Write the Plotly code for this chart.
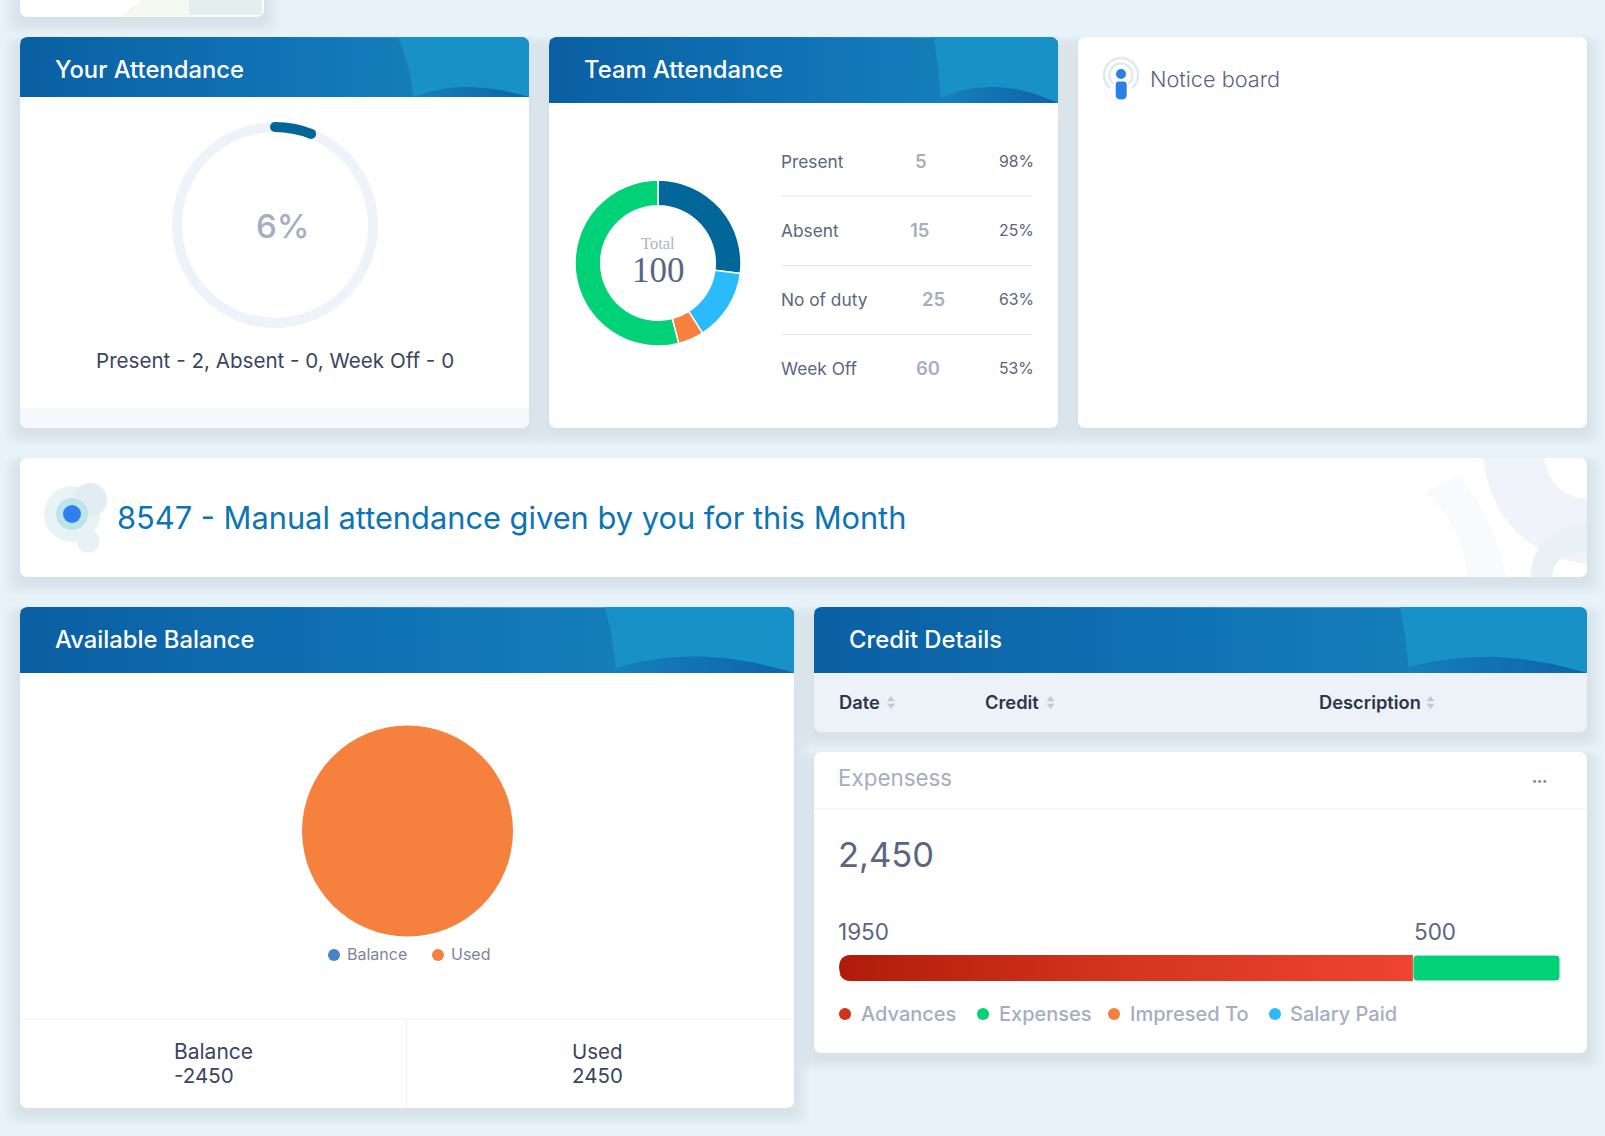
import math
import plotly.graph_objects as go

W, H = 1605, 1136
FONT = "Inter"

# chart values
ATTENDANCE_PCT = [6, 94]
ATTENDANCE_SUMMARY = "Present - 2, Absent - 0, Week Off - 0"
TEAM_LABELS = ["Present", "Absent", "No of duty", "Week Off"]
TEAM_COUNTS = ["5", "15", "25", "60"]
TEAM_SHARES = ["98%", "25%", "63%", "53%"]
DONUT_VALUES = [27, 14, 5, 54]
DONUT_COLORS = ["#03669a", "#2bbbfd", "#f6803e", "#02d277"]
BALANCE_LABELS = ["Balance", "Used"]
BALANCE_VALUES = [0, 2450]
BALANCE_COLORS = ["#4a80c4", "#f6803e"]
BALANCE_TEXT = ["-2450", "2450"]
EXPENSE_TOTAL = 2450
EXPENSE_VALUES = [1950, 500]
EXPENSE_LEGEND = ["Advances", "Expenses", "Impresed To", "Salary Paid"]
EXPENSE_COLORS = ["#d0321a", "#02d277", "#f6803e", "#2bbbfd"]
TABLE_COLUMNS = ["Date", "Credit", "Description"]

DARK = "#3a4560"
SLATE = "#5a6680"
MUTED = "#a4aec2"
LINE = "#dfe7f0"


def rounded(x0, y0, x1, y1, tl=8, tr=8, br=8, bl=8):
    return (f"M {x0+tl} {y0} L {x1-tr} {y0} Q {x1} {y0} {x1} {y0+tr} L {x1} {y1-br} "
            f"Q {x1} {y1} {x1-br} {y1} L {x0+bl} {y1} Q {x0} {y1} {x0} {y1-bl} "
            f"L {x0} {y0+tl} Q {x0} {y0} {x0+tl} {y0} Z")


def quad(p0, c, p1, n=24):
    pts = []
    for i in range(n + 1):
        t = i / n
        pts.append(((1-t)**2*p0[0] + 2*t*(1-t)*c[0] + t*t*p1[0],
                    (1-t)**2*p0[1] + 2*t*(1-t)*c[1] + t*t*p1[1]))
    return pts


def arc_path(cx, cy, r, a0, a1, n=40):
    pts = []
    for i in range(n + 1):
        a = math.radians(a0 + (a1 - a0) * i / n)
        pts.append(f"{cx + r*math.sin(a):.1f} {cy - r*math.cos(a):.1f}")
    return "M " + " L ".join(pts)


fig = go.Figure()
shapes = []
notes = []


def label(x, y, text, size, color=DARK, anchor="left", weight=400, family=FONT):
    # annotations sit a little inside their anchor, pull them back
    if anchor == "left":
        x -= 2
    elif anchor == "right":
        x += 2
    notes.append(dict(x=x, y=y, xref="x", yref="y", text=text, showarrow=False,
                      xanchor=anchor, yanchor="middle", borderpad=0,
                      font=dict(family=family, size=size, color=color, weight=weight)))


def card(x0, y0, x1, y1, fill="#ffffff"):
    # soft shadow, stacked translucent rects
    for i in range(8):
        grow = 16 - i * 2
        shapes.append(dict(type="path", layer="below", line_width=0,
                           path=rounded(x0-grow, y0+5-grow*0.4, x1+grow, y1+5+grow*0.8,
                                        12, 12, 12, 12),
                           fillcolor="rgba(70,90,110,0.013)"))
    shapes.append(dict(type="path", layer="below", line_width=0, fillcolor=fill,
                       path=rounded(x0, y0, x1, y1)))


def gradient_poly(pts, colors, kind="horizontal"):
    xs, ys = zip(*pts)
    fig.add_trace(go.Scatter(x=list(xs) + [xs[0]], y=list(ys) + [ys[0]], mode="lines",
                             line=dict(width=0), fill="toself", hoverinfo="skip",
                             fillgradient=dict(type=kind, colorscale=colors)))


def header(x0, x1, y0, y1, title, title_y, panel_x, wave_start, wave_peak):
    r = 8
    outline = (quad((x0, y0+r), (x0, y0), (x0+r, y0), 6) +
               quad((x1-r, y0), (x1, y0), (x1, y0+r), 6) + [(x1, y1), (x0, y1)])
    gradient_poly(outline, [[0, "#0b5fa3"], [0.45, "#0f71b4"], [1, "#1a86bf"]])
    panel = (quad((panel_x, y0), (wave_start[0]-2, (y0+y1)/2), (wave_start[0], y1), 12) +
             [(x1, y1)] + quad((x1, y0+r), (x1, y0), (x1-r, y0), 6))
    gradient_poly(panel, [[0, "#1890c8"], [1, "#1890c8"]])
    wave = quad(wave_start, (wave_peak[0], wave_peak[1]*2-(wave_start[1]+y1)/2), (x1, y1), 24)
    wave = wave + [(wave_start[0], y1)]
    gradient_poly(wave, [[0, "#157fbc"], [1, "#0e63a8"]])
    label(x0+36, title_y, title, 23.8, "#ffffff", weight=500)


# background stub of the card cut off at the top of the page
card(20, -30, 264, 17)
gradient_poly([(120, 17), (142, 0), (189, 0), (189, 17)], [[0, "#f3f8f1"], [1, "#f3f8f1"]])
gradient_poly([(189, 0), (262, 0), (262, 15), (189, 15)], [[0, "#e3eeee"], [1, "#e3eeee"]])

# ---- Your Attendance
card(20, 37, 529, 428)
shapes.append(dict(type="path", layer="below", line_width=0, fillcolor="#f8f9fc",
                   path=rounded(20, 408, 529, 428, 0, 0, 8, 8)))
header(20, 529, 37, 97, "Your Attendance", 69, 398, (413, 97), (464, 87))
ring_x, ring_y, ring_r = 275, 225, 98
shapes.append(dict(type="circle", layer="below", x0=ring_x-ring_r, x1=ring_x+ring_r,
                   y0=ring_y-ring_r, y1=ring_y+ring_r, fillcolor="#ffffff",
                   line=dict(color="#edf3f9", width=10)))
arc_end = math.radians(ATTENDANCE_PCT[0] / sum(ATTENDANCE_PCT) * 360)
fig.add_trace(go.Scatter(
    x=[ring_x, ring_x + ring_r*math.sin(arc_end)],
    y=[ring_y - ring_r, ring_y - ring_r*math.cos(arc_end)],
    mode="markers", marker=dict(size=10, color="#03669a"), hoverinfo="skip"))
fig.add_trace(go.Pie(values=ATTENDANCE_PCT, sort=False, direction="clockwise", rotation=0,
                     hole=93/103, textinfo="none", hoverinfo="skip",
                     marker=dict(colors=["#03669a", "rgba(0,0,0,0)"], line=dict(width=0)),
                     domain=dict(x=[(ring_x-103)/W, (ring_x+103)/W],
                                 y=[1-(ring_y+103)/H, 1-(ring_y-103)/H])))
label(282.5, 226, f"{ATTENDANCE_PCT[0]}%", 33, MUTED, "center", 500)
label(275, 360, ATTENDANCE_SUMMARY, 20.6, DARK, "center")

# ---- Team Attendance
card(549, 37, 1058, 428)
header(549, 1058, 37, 103, "Team Attendance", 69, 934, (941, 98), (995, 87))
dx, dy, dr = 658, 263, 83
fig.add_trace(go.Pie(values=DONUT_VALUES, sort=False, direction="clockwise", rotation=0,
                     hole=0.69, textinfo="none", hoverinfo="skip",
                     marker=dict(colors=DONUT_COLORS, line=dict(color="#ffffff", width=1.5)),
                     domain=dict(x=[(dx-dr)/W, (dx+dr)/W], y=[1-(dy+dr)/H, 1-(dy-dr)/H])))
label(dx, 243, "Total", 16.5, "#adb5c7", "center", family="Liberation Serif")
label(dx, 270, str(sum(DONUT_VALUES)), 35, SLATE, "center", family="Liberation Serif")
row_y = [161, 230.4, 299, 368]
count_x = [921, 919.6, 933, 928]
for i, name in enumerate(TEAM_LABELS):
    label(782, row_y[i], name, 17.3, SLATE)
    label(count_x[i], row_y[i], TEAM_COUNTS[i], 18.5, MUTED, "center", 600)
    label(1033, row_y[i], TEAM_SHARES[i], 15.8, SLATE, "right")
for y in [196, 265.6, 334.5]:
    shapes.append(dict(type="line", layer="below", x0=782, x1=1033, y0=y, y1=y,
                       line=dict(color=LINE, width=1)))

# ---- Notice board
card(1078, 37, 1587, 428)
for r, width in [(17, 2.5), (11.5, 2.5)]:
    shapes.append(dict(type="path", layer="below", path=arc_path(1121, 75, r, -140, 140),
                       line=dict(color="#dfeaf5", width=width)))
shapes.append(dict(type="circle", layer="below", x0=1116, x1=1126, y0=69, y1=79,
                   fillcolor="#2d7fe8", line_width=0))
shapes.append(dict(type="path", layer="below", fillcolor="#2d7fe8", line_width=0,
                   path=rounded(1115.7, 81.5, 1126.7, 99.5, 3, 3, 5, 5)))
label(1150.5, 79, "Notice board", 21.7, SLATE, weight=300)

# ---- Banner
card(20, 458, 1587, 577)
for path, color in [
    ("M 1483 458 Q 1495 550 1587 564.5 L 1587 499.4 Q 1550 495 1544 458 Z", "#f0f4fa"),
    ("M 1530.5 577 Q 1532 530 1587 522 L 1587 551 Q 1552 555 1552 577 Z", "#e9f1f6"),
    ("M 1425 492 Q 1462 525 1467 577 L 1506 577 Q 1495 515 1458 476 Z", "#f9fafd"),
]:
    shapes.append(dict(type="path", layer="below", path=path, fillcolor=color, line_width=0))
for cx, cy, r, color in [(72, 514, 28, "#e8f3f6"), (90, 500, 17, "#e2edf3"),
                         (88, 541, 11.5, "#e8f1f5"), (72, 514, 16, "#bde5e9"),
                         (72, 514, 9, "#2f7fee")]:
    shapes.append(dict(type="circle", layer="below", x0=cx-r, x1=cx+r, y0=cy-r, y1=cy+r,
                       fillcolor=color, line_width=0))
label(118, 517, "8547 - Manual attendance given by you for this Month", 30.8, "#0b74b5")

# ---- Available Balance
card(20, 607, 794, 1108)
header(20, 794, 607, 673, "Available Balance", 639, 605, (616, 668), (697, 656.6))
px, py, pr = 407.5, 831, 105.5
fig.add_trace(go.Pie(values=BALANCE_VALUES, labels=BALANCE_LABELS, sort=False, textinfo="none",
                     hoverinfo="skip", marker=dict(colors=BALANCE_COLORS, line=dict(width=0)),
                     domain=dict(x=[(px-pr)/W, (px+pr)/W], y=[1-(py+pr)/H, 1-(py-pr)/H])))
fig.add_trace(go.Scatter(x=[334, 438], y=[955, 955], mode="markers", hoverinfo="skip",
                         marker=dict(size=12, color=BALANCE_COLORS)))
label(348, 954, BALANCE_LABELS[0], 16, "#7b869c")
label(452, 954, BALANCE_LABELS[1], 16, "#7b869c")
shapes.append(dict(type="line", layer="below", x0=20, x1=794, y0=1019, y1=1019,
                   line=dict(color="#eef1f5", width=1)))
shapes.append(dict(type="line", layer="below", x0=406.5, x1=406.5, y0=1019, y1=1108,
                   line=dict(color="#eef1f5", width=1)))
label(175, 1051, BALANCE_LABELS[0], 21, DARK)
label(175, 1075, BALANCE_TEXT[0], 20.5, DARK)
label(573, 1051, BALANCE_LABELS[1], 20.5, DARK)
label(573, 1075, BALANCE_TEXT[1], 20.5, DARK)

# ---- Credit Details
card(814, 607, 1587, 732, "#edf2f9")
header(814, 1587, 607, 673, "Credit Details", 639, 1400, (1409, 667), (1493, 657))
col_x = [840, 986, 1319.5]
sort_x = [891, 1050.5, 1430.5]
for i, col in enumerate(TABLE_COLUMNS):
    label(col_x[i], 702, col, 18.3, "#2b3648", weight=600)
fig.add_trace(go.Scatter(x=sort_x, y=[699.5]*3, mode="markers", hoverinfo="skip",
                         marker=dict(symbol="triangle-up", size=7, color="#c3c9d6")))
fig.add_trace(go.Scatter(x=sort_x, y=[705.5]*3, mode="markers", hoverinfo="skip",
                         marker=dict(symbol="triangle-down", size=7, color="#c3c9d6")))

# ---- Expensess
card(814, 752, 1587, 1053)
label(839, 777, "Expensess", 22.4, MUTED)
label(1539, 780, "•••", 9, "#7b869c", "center")
shapes.append(dict(type="line", layer="below", x0=814, x1=1587, y0=809, y1=809,
                   line=dict(color="#eef3f9", width=1)))
label(839, 854, f"{EXPENSE_TOTAL:,}", 34.5, SLATE)
label(839, 931, str(EXPENSE_VALUES[0]), 22.5, SLATE)
label(1415, 931, str(EXPENSE_VALUES[1]), 22.5, SLATE)

# stacked bar on its own small axes so the widths come from the values
rad_x = 12 * sum(EXPENSE_VALUES) / 721
red_end = EXPENSE_VALUES[0]
outline = (quad((rad_x, 0.5), (0, 0.5), (0, 0), 6) + quad((0, 0), (0, -0.5), (rad_x, -0.5), 6) +
           [(red_end, -0.5), (red_end, 0.5), (rad_x, 0.5)])
xs, ys = zip(*outline)
fig.add_trace(go.Scatter(x=xs, y=ys, xaxis="x2", yaxis="y2", mode="lines", line=dict(width=0),
                         fill="toself", hoverinfo="skip",
                         fillgradient=dict(type="horizontal",
                                           colorscale=[[0, "#b01c0a"], [0.5, "#d5351f"], [1, "#ee4430"]])))
fig.add_trace(go.Bar(x=[EXPENSE_VALUES[1]], base=[EXPENSE_VALUES[0]], y=[0], orientation="h",
                     xaxis="x2", yaxis="y2", width=1, hoverinfo="skip",
                     marker=dict(color=EXPENSE_COLORS[1], cornerradius=4,
                                 line=dict(color="#ffffff", width=1))))
leg_dot = [845, 983, 1114, 1275]
leg_txt = [862, 1000, 1130.6, 1291]
fig.add_trace(go.Scatter(x=leg_dot, y=[1014]*4, mode="markers", hoverinfo="skip",
                         marker=dict(size=12, color=EXPENSE_COLORS)))
for i, name in enumerate(EXPENSE_LEGEND):
    label(leg_txt[i], 1014, name, 20, MUTED, weight=500)

fig.update_layout(
    width=W, height=H, margin=dict(l=0, r=0, t=0, b=0), showlegend=False,
    paper_bgcolor="#e8f3f9", plot_bgcolor="rgba(0,0,0,0)",
    xaxis=dict(range=[0, W], visible=False, fixedrange=True, domain=[0, 1]),
    yaxis=dict(range=[H, 0], visible=False, fixedrange=True, domain=[0, 1]),
    xaxis2=dict(range=[0, sum(EXPENSE_VALUES)], visible=False, fixedrange=True, anchor="y2",
                domain=[839/W, 1560/W]),
    yaxis2=dict(range=[-0.5, 0.5], visible=False, fixedrange=True, anchor="x2",
                domain=[1-981/H, 1-955/H]),
    shapes=shapes, annotations=notes,
)

fig.write_html("out.html", config={"displayModeBar": False},
               post_script="document.body.style.margin='0';document.body.style.overflow='hidden';")
